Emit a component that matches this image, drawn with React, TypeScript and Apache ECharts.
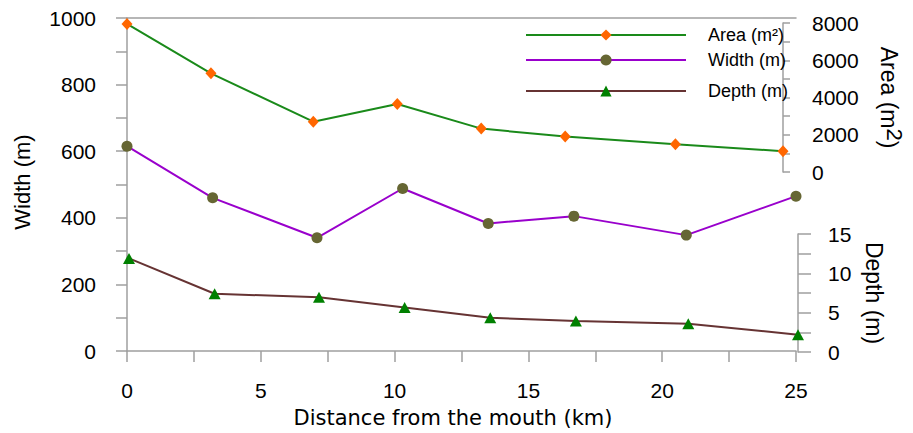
import React, { useEffect, useRef } from 'react';
import * as echarts from 'echarts';

const distanceKm = [0, 3.2, 7.1, 10.3, 13.5, 16.7, 20.9, 25];
const areaM2 = [7950, 5300, 2700, 3650, 2330, 1900, 1490, 1120];
const widthM = [615, 460, 340, 488, 383, 405, 348, 465];
const depthM = [11.9, 7.4, 6.95, 5.65, 4.35, 3.95, 3.6, 2.2];

const FONT = 'Arial, "Liberation Sans", sans-serif';
const WIDE_FONT = '"DejaVu Sans", Verdana, sans-serif';
const AXIS_COLOR = '#9f9f9f';

export default function App() {
  const ref = useRef<HTMLDivElement>(null);
  useEffect(() => {
    const chart = echarts.init(ref.current!, null, { renderer: 'svg' });
    const pairs = (ys: number[]) => distanceKm.map((x, i) => [x, ys[i]]);
    const axisLine = { show: true, onZero: false, lineStyle: { color: AXIS_COLOR, width: 1.5 } };
    const tick = (length: number) => ({ show: true, length, lineStyle: { color: AXIS_COLOR, width: 1.5 } });
    const hiddenX = (gridIndex: number) => ({ type: 'value', gridIndex, min: 0, max: 25, show: false });
    const legendBase = {
      left: 525, itemWidth: 160, itemHeight: 14, padding: 0,
      textStyle: { fontSize: 18, color: '#000', fontFamily: FONT, padding: [0, 0, 0, 17] },
    };
    chart.setOption({
      animation: false,
      textStyle: { fontFamily: FONT },
      grid: [
        { left: 127, top: 18, width: 669, height: 334 },
        { left: 127, top: 23, width: 669, height: 149 },
        { left: 129, top: 234, width: 669, height: 118 },
      ],
      legend: [
        { ...legendBase, top: 26, data: ['Area (m²)'] },
        { ...legendBase, top: 51, data: ['Width (m)'] },
        { ...legendBase, top: 82, data: ['Depth (m)'] },
      ],
      xAxis: [
        {
          type: 'value', gridIndex: 0, min: 0, max: 25, interval: 2.5, position: 'bottom',
          axisLine, axisTick: tick(11), splitLine: { show: false },
          axisLabel: { color: '#000', fontSize: 21, margin: 29, formatter: (v: number) => (v % 5 === 0 ? String(v) : '') },
          name: 'Distance from the mouth (km)', nameLocation: 'middle', nameGap: 56,
          nameTextStyle: { color: '#000', fontSize: 21, fontFamily: WIDE_FONT, padding: [0, 17, 0, 0] },
        },
        hiddenX(1),
        hiddenX(2),
        {
          type: 'value', gridIndex: 0, min: 0, max: 25, position: 'top',
          axisLine, axisTick: { show: false }, axisLabel: { show: false }, splitLine: { show: false },
        },
      ],
      yAxis: [
        {
          type: 'value', gridIndex: 0, position: 'left', min: 0, max: 1000, interval: 100,
          axisLine, axisTick: tick(11), splitLine: { show: false },
          axisLabel: { color: '#000', fontSize: 21, margin: 31, formatter: (v: number) => (v % 200 === 0 ? String(v) : '') },
          name: 'Width (m)', nameLocation: 'middle', nameGap: 94, nameRotate: 90,
          nameTextStyle: { color: '#000', fontSize: 22, padding: [0, 0, 0, 5] },
        },
        {
          type: 'value', gridIndex: 1, position: 'right', min: 0, max: 8000, interval: 1000,
          axisLine, axisTick: tick(7), splitLine: { show: false },
          axisLabel: { color: '#000', fontSize: 21, margin: 29, formatter: (v: number) => (v % 2000 === 0 ? String(v) : '') },
          name: 'Area (m{sup|2})', nameLocation: 'middle', nameGap: 89, nameRotate: -90,
          nameTextStyle: {
            color: '#000', fontSize: 23,
            rich: { sup: { fontSize: 22, color: '#000', padding: [0, 0, 11, 0] } },
          },
        },
        {
          type: 'value', gridIndex: 2, position: 'right', min: 0, max: 15, interval: 2.5,
          axisLine, axisTick: tick(13), splitLine: { show: false },
          axisLabel: { color: '#000', fontSize: 21, margin: 30, formatter: (v: number) => (v % 5 === 0 ? String(v) : '') },
          name: 'Depth (m)', nameLocation: 'middle', nameGap: 62, nameRotate: -90,
          nameTextStyle: { color: '#000', fontSize: 23 },
        },
      ],
      series: [
        {
          name: 'Area (m²)', type: 'line', xAxisIndex: 1, yAxisIndex: 1, data: pairs(areaM2),
          symbol: 'diamond', symbolSize: [11, 12],
          lineStyle: { color: '#1a8a1a', width: 2 }, itemStyle: { color: '#ff6600' },
        },
        {
          name: 'Width (m)', type: 'line', xAxisIndex: 0, yAxisIndex: 0, data: pairs(widthM),
          symbol: 'circle', symbolSize: 11,
          lineStyle: { color: '#9900cc', width: 2 }, itemStyle: { color: '#666633' },
        },
        {
          name: 'Depth (m)', type: 'line', xAxisIndex: 2, yAxisIndex: 2, data: pairs(depthM),
          symbol: 'triangle', symbolSize: [12, 11],
          lineStyle: { color: '#663333', width: 2 }, itemStyle: { color: '#008000' },
        },
      ],
    });
    return () => chart.dispose();
  }, []);
  return (
    <div
      ref={ref}
      style={{ position: 'fixed', left: 0, top: 0, width: 913, height: 433, background: '#fff' }}
    />
  );
}
